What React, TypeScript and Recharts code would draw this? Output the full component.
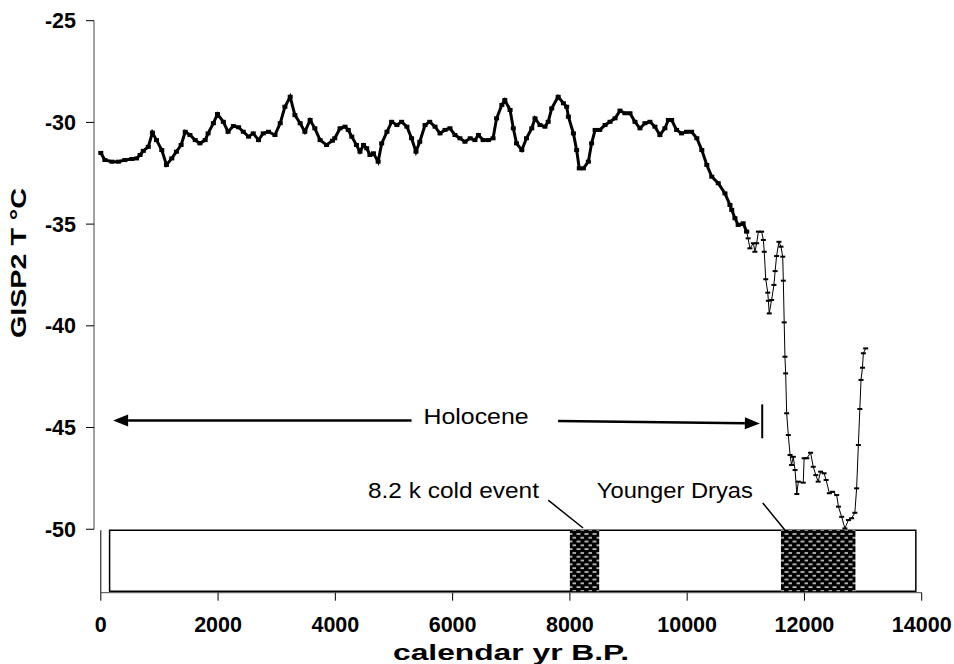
import React from "react";
import {
  ComposedChart, Line, XAxis, YAxis, ReferenceArea, ReferenceLine, ReferenceDot,
} from "recharts";

// GISP2 temperature, Holocene part (dense sampling)
const holoceneYears = [
  0, 70, 190, 300, 410, 530, 610, 670, 725, 810, 880, 950, 1040, 1120, 1210, 1290, 1370, 1440,
  1520, 1610, 1690, 1780, 1830, 1920, 1990, 2090, 2170, 2260, 2350, 2430, 2520, 2600, 2690, 2770,
  2860, 2970, 3060, 3140, 3230, 3310, 3400, 3480, 3570, 3650, 3740, 3850, 3950, 3990, 4080, 4165,
  4220, 4280, 4360, 4420, 4480, 4535, 4590, 4650, 4730, 4790, 4880, 4960, 5050, 5130, 5220, 5300,
  5375, 5440, 5530, 5610, 5700, 5785, 5870, 5955, 6040, 6125, 6210, 6300, 6380, 6440, 6520, 6610,
  6690, 6750, 6840, 6890, 6980, 7035, 7090, 7180, 7260, 7350, 7405, 7490, 7575, 7630, 7690, 7800,
  7890, 7945, 7975, 8060, 8115, 8160, 8230, 8315, 8370, 8430, 8510, 8600, 8685, 8770, 8855, 8940,
  9025, 9110, 9195, 9280, 9365, 9450, 9535, 9620, 9680, 9735, 9820, 9905, 9990, 10075, 10165,
  10250, 10335, 10420, 10530, 10645, 10730, 10760, 10815, 10870, 10955, 11015,
];
const holoceneTemps = [
  -31.5, -31.85, -31.93, -31.93, -31.85, -31.8, -31.77, -31.6, -31.4, -31.2, -30.5, -30.87, -31.36,
  -32.09, -31.77, -31.44, -31.11, -30.46, -30.62, -30.87, -31.03, -30.87, -30.54, -30.04, -29.59,
  -29.97, -30.46, -30.18, -30.24, -30.46, -30.7, -30.54, -30.87, -30.54, -30.46, -30.62, -30.04,
  -29.23, -28.74, -29.64, -30.04, -30.46, -29.88, -30.29, -30.87, -31.11, -30.9, -30.78, -30.29,
  -30.21, -30.37, -30.7, -31.11, -31.44, -31.11, -31.27, -31.6, -31.52, -31.93, -31.03, -30.46,
  -29.97, -30.13, -29.97, -30.21, -30.78, -31.44, -30.95, -30.13, -29.97, -30.21, -30.54, -30.37,
  -30.29, -30.62, -30.78, -30.95, -30.78, -30.87, -30.62, -30.87, -30.87, -30.78, -29.8, -29.14,
  -28.9, -29.39, -30.29, -31.03, -31.36, -30.78, -30.29, -29.8, -30.13, -30.21, -29.97, -29.31,
  -28.74, -29.06, -29.23, -29.72, -30.54, -31.36, -32.26, -32.26, -31.93, -31.03, -30.37, -30.37,
  -30.13, -29.97, -29.8, -29.42, -29.55, -29.55, -29.97, -30.29, -30.04, -29.97, -30.21, -30.62,
  -30.29, -29.88, -29.88, -30.37, -30.54, -30.46, -30.46, -30.78, -31.36, -32.09, -32.67, -32.99,
  -33.49, -34.06, -34.3, -34.71, -35.04, -34.96, -35.37,
];

// Late glacial part (sparser sampling)
const glacialYears = [
  11015, 11040, 11070, 11130, 11155, 11185, 11215, 11270, 11300, 11315, 11340, 11375, 11385, 11400,
  11440, 11480, 11500, 11525, 11565, 11600, 11630, 11640, 11655, 11668, 11680, 11697, 11725, 11755,
  11780, 11810, 11840, 11870, 11895, 11980, 11995, 12040, 12105, 12150, 12195, 12235, 12275, 12335,
  12370, 12425, 12480, 12550, 12580, 12635, 12690, 12750, 12805, 12860, 12890, 12920, 12945, 12965,
  12990, 13005, 13045,
];
const glacialTemps = [
  -35.37, -35.7, -36.19, -35.94, -36.36, -35.94, -35.37, -35.37, -35.78, -36.36, -37.71, -38.37,
  -38.77, -39.39, -38.73, -37.99, -37.31, -36.57, -35.87, -36.11, -36.6, -37.78, -39.83, -41.52,
  -42.34, -44.3, -45.37, -46.35, -46.84, -46.44, -47.09, -48.27, -47.66, -47.71, -46.51, -46.51,
  -46.24, -46.93, -47.34, -47.66, -47.17, -47.25, -47.58, -48.23, -48.16, -48.32, -48.89, -49.39,
  -49.96, -49.55, -49.46, -49.19, -47.99, -45.86, -44.09, -42.66, -42.06, -41.35, -41.11,
];

const xTicks = [0, 2000, 4000, 6000, 8000, 10000, 12000, 14000];
const yTicks = [-50, -45, -40, -35, -30, -25];

const eventNames = ["8.2 k cold event", "Younger Dryas"];
const eventStarts = [8000, 11600];
const eventEnds = [8500, 12870];

const holoceneData = holoceneYears.map((year, i) => ({ year, temp: holoceneTemps[i] }));
const glacialData = glacialYears.map((year, i) => ({ year, temp: glacialTemps[i] }));

const FONT = "'Liberation Sans', Arial, sans-serif";
const X_MIN = -116;
const Y_MIN = -53.12;
const BOX_TOP = -50.05;
const BOX_BOTTOM = -53.05;

const dash = (w: number, h: number) => (props: any) => {
  const { cx, cy, index } = props;
  if (cx == null || cy == null) return <g key={index} />;
  return <rect key={index} x={cx - w / 2} y={cy - h / 2} width={w} height={h} fill="#000" />;
};

const arrow = (props: any) => {
  const { x1, y1, x2, y2 } = props;
  const a = Math.atan2(y2 - y1, x2 - x1);
  const len = 15, hw = 6;
  const bx = x2 - len * Math.cos(a), by = y2 - len * Math.sin(a);
  const px = -Math.sin(a) * hw, py = Math.cos(a) * hw;
  return (
    <g>
      <line x1={x1} y1={y1} x2={bx} y2={by} stroke="#000" strokeWidth={2.5} />
      <polygon points={`${x2},${y2} ${bx + px},${by + py} ${bx - px},${by - py}`} fill="#000" />
    </g>
  );
};

// text note centred on a data point, stretched to the measured width
const note = (text: string, len: number) => (props: any) => (
  <text x={props.cx} y={props.cy} textAnchor="middle" dominantBaseline="central"
    fontFamily={FONT} fontSize={22} fill="#000" textLength={len} lengthAdjust="spacingAndGlyphs">{text}</text>
);

export default function App() {
  const tickStyle = { fill: "#000", fontSize: 21.5, fontWeight: "bold", fontFamily: FONT };
  return (
    <div style={{ position: "absolute", left: 0, top: 0, background: "#fff" }}>
      <ComposedChart width={954} height={664} margin={{ top: 20.7, right: 32.3, bottom: 11.3, left: 0 }}>
        <defs>
          <pattern id="brick" width="8" height="7.6" patternUnits="userSpaceOnUse">
            <rect width="8" height="7.6" fill="#000" />
            <rect x="0.5" y="1.3" width="4" height="1.3" fill="#fff" />
            <rect x="4.5" y="5.1" width="4" height="1.3" fill="#fff" />
          </pattern>
        </defs>
        <XAxis type="number" dataKey="year" domain={[X_MIN, 14000]} ticks={xTicks} interval={0}
          allowDataOverflow axisLine={false} tickLine={{ stroke: "#000" }} tickSize={8} tickMargin={16}
          height={60} tick={tickStyle} />
        <YAxis type="number" domain={[Y_MIN, -25]} ticks={yTicks} interval={0} allowDataOverflow
          axisLine={false} tickLine={{ stroke: "#000" }} tickSize={8} tickMargin={10} width={94}
          tick={tickStyle} />

        <ReferenceLine segment={[{ x: X_MIN, y: -50 }, { x: X_MIN, y: -25 }]} stroke="#444" />
        <ReferenceLine segment={[{ x: 0, y: Y_MIN }, { x: 14000, y: Y_MIN }]} stroke="#444" />
        <ReferenceLine segment={[{ x: 0, y: BOX_TOP }, { x: 0, y: Y_MIN }]} stroke="#000" />

        <ReferenceArea x1={150} x2={13900} y1={BOX_BOTTOM} y2={BOX_TOP} fill="#fff" fillOpacity={1}
          stroke="#000" strokeWidth={1.5} />
        {eventNames.map((n, i) => (
          <ReferenceArea key={n} x1={eventStarts[i]} x2={eventEnds[i]} y1={BOX_BOTTOM} y2={BOX_TOP}
            fill="url(#brick)" fillOpacity={1} />
        ))}

        <ReferenceLine segment={[{ x: 5300, y: -44.65 }, { x: 210, y: -44.65 }]} shape={arrow} />
        <ReferenceLine segment={[{ x: 7800, y: -44.68 }, { x: 11240, y: -44.8 }]} shape={arrow} />
        <ReferenceLine segment={[{ x: 11280, y: -43.86 }, { x: 11280, y: -45.53 }]} stroke="#000" strokeWidth={2} />
        <ReferenceDot x={6400} y={-44.45} r={0} shape={note("Holocene", 105)} />

        <ReferenceLine segment={[{ x: 7630, y: -48.57 }, { x: 8225, y: -49.94 }]} stroke="#000" strokeWidth={1.5} />
        <ReferenceLine segment={[{ x: 11290, y: -48.71 }, { x: 11666, y: -50.04 }]} stroke="#000" strokeWidth={1.5} />
        <ReferenceDot x={6015} y={-48.1} r={0} shape={note(eventNames[0], 171)} />
        <ReferenceDot x={9790} y={-48.1} r={0} shape={note(eventNames[1], 156)} />

        <Line data={holoceneData} dataKey="temp" type="linear" stroke="#000" strokeWidth={3}
          dot={dash(5, 4)} isAnimationActive={false} />
        <Line data={glacialData} dataKey="temp" type="linear" stroke="#000" strokeWidth={1}
          dot={dash(5, 2)} isAnimationActive={false} />

        <text x={511} y={652} textAnchor="middle" dominantBaseline="central" fontFamily={FONT}
          fontSize={22} fontWeight="bold" fill="#000" textLength={236} lengthAdjust="spacingAndGlyphs">calendar yr B.P.</text>
        <text x={18} y={263} textAnchor="middle" dominantBaseline="central" fontFamily={FONT}
          fontSize={22} fontWeight="bold" fill="#000" textLength={150} lengthAdjust="spacingAndGlyphs"
          transform="rotate(-90 18 263)">GISP2 T °C</text>
      </ComposedChart>
    </div>
  );
}
